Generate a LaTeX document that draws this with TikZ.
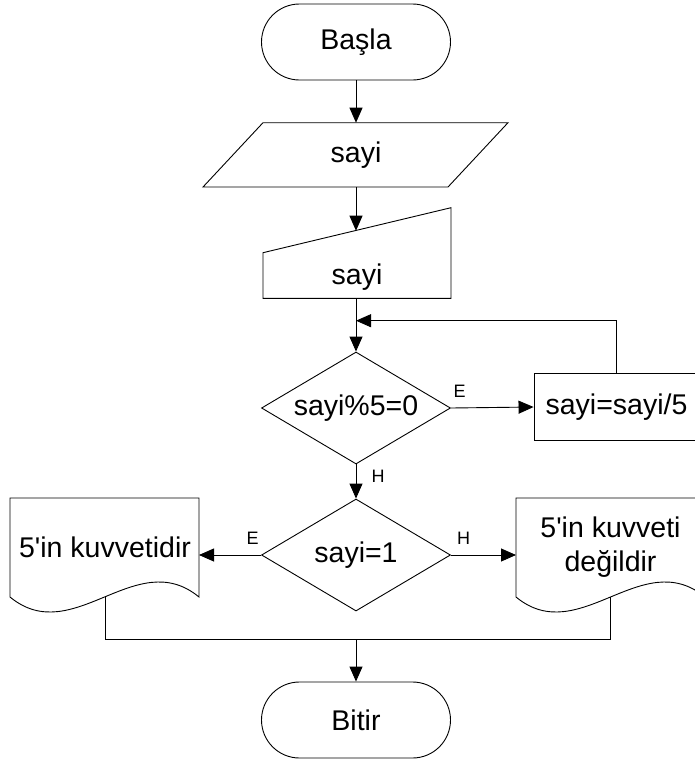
\documentclass[tikz,border=0pt]{standalone}
\usepackage{fontspec}
\newfontfamily\af{Liberation Sans}
\usetikzlibrary{shapes.geometric,shapes.misc,arrows.meta}
\begin{document}
\begin{tikzpicture}[x=1pt,y=-1pt,
  every node/.style={font=\af\fontsize{28.5}{34}\selectfont},
  line/.style={draw=black, line width=0.9pt},
  arr/.style={line, -{Triangle[length=15pt,width=13pt]}},
  lbl/.style={font=\af\fontsize{18}{21}\selectfont, inner sep=0pt},
  term/.style={rounded rectangle, draw, line width=0.9pt, minimum width=189pt, minimum height=76pt, inner sep=0pt},
  dec/.style={diamond, draw, line width=0.9pt, minimum width=189pt, minimum height=112pt, inner sep=0pt, aspect=1.69},
  proc/.style={rectangle, draw, line width=0.9pt, minimum width=165pt, minimum height=67pt, inner sep=0pt},
  txt/.style={inner sep=0pt, align=center}
]
\useasboundingbox (0,0) rectangle (695,761);
\clip (0,0) rectangle (695,761);

% start
\node[term] (start) at (356,42) {Başla};

% input (parallelogram)
\draw[line] (263,122.7) -- (508,122.7) -- (448,187) -- (203,187) -- cycle;
\node[txt] (inp) at (356,155) {sayi};
\coordinate (inpTop) at (356,122.7);
\coordinate (inpBot) at (356,187);
\draw[arr] (start.south) -- (inpTop);

% manual input
\draw[line] (263,252.7) -- (451,207.7) -- (451,298.3) -- (263,298.3) -- cycle;
\node[txt] (man) at (357,277) {sayi};
\coordinate (manTop) at (356,230.7);
\coordinate (manBot) at (356,298.3);
\draw[arr] (inpBot) -- (manTop);

% first decision
\node[dec] (d1) at (356,408) {sayi\%5=0};
\draw[arr] (manBot) -- (d1.north);

% process
\node[proc] (calc) at (616.5,407) {sayi=sayi/5};
\draw[arr] (d1.east) -- (calc.west);
\node[lbl] (e1) at (459.5,391) {E};
\coordinate (j1) at (356,320.7);
\draw[arr] (calc.north) |- (j1);

% second decision
\node[dec] (d2) at (356,555) {sayi=1};
\draw[arr] (d1.south) -- (d2.north);
\node[lbl] (h1) at (378,476) {H};

% documents
\draw[line] (10,498) -- (199,498) -- (199,597) .. controls (136,545) and (73,649) .. (10,597) -- cycle;
\node[txt] (yes) at (105,547) {5\textquotesingle in kuvvetidir};
\draw[line] (516,498) -- (705,498) -- (705,597) .. controls (642,545) and (579,649) .. (516,597) -- cycle;
\node[txt] (no) at (610.5,547) {5\textquotesingle in kuvveti\\değildir};

\coordinate (ydE) at (199,555);
\coordinate (ndW) at (516,555);
\draw[arr] (d2.west) -- (ydE);
\draw[arr] (d2.east) -- (ndW);
\node[lbl] (e2) at (252.7,538) {E};
\node[lbl] (h2) at (463.6,538) {H};

% merge
\coordinate (ydB) at (105,597);
\coordinate (ndB) at (610.5,597);
\coordinate (mL) at (105,639);
\coordinate (mR) at (610.5,639);
\draw[line] (ydB) -- (mL) -- (mR) -- (ndB);

% end
\node[term] (end) at (356,720) {Bitir};
\draw[arr] (end.north |- mL) -- (end.north);
\end{tikzpicture}
\end{document}
